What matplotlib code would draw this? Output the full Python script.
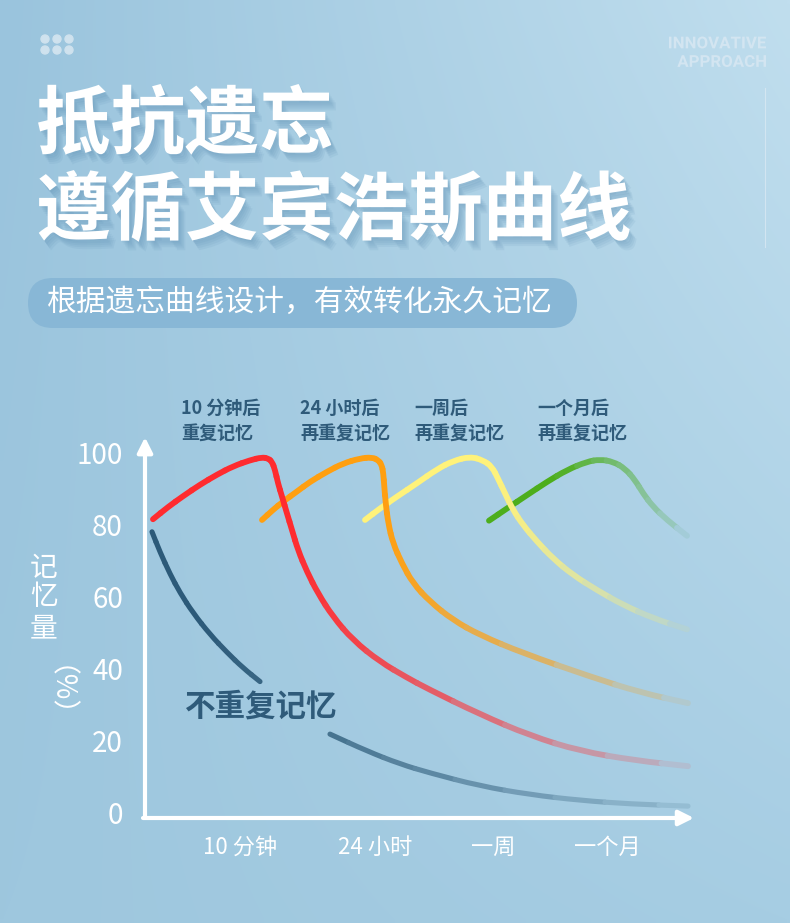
import numpy as np
import matplotlib
matplotlib.use('Agg')
import matplotlib.pyplot as plt
import matplotlib.patheffects as pe
from matplotlib.collections import PathCollection
from matplotlib.patches import FancyBboxPatch, PathPatch
from matplotlib.path import Path
from matplotlib.textpath import TextPath
from matplotlib.font_manager import FontProperties
from matplotlib.transforms import Affine2D
from matplotlib.colors import to_rgb

W, H = 790, 923
CJK = ['Noto Sans CJK SC', 'DejaVu Sans']
plt.rcParams['font.family'] = CJK

# ---- data: x = position along the time axis (0 = origin), y = memory kept (%)
time_ticks = [95, 230, 348, 462]
time_labels = ['10 分钟', '24 小时', '一周', '一个月']
pct_ticks = [0, 20, 40, 60, 80, 100]

# no review (gap where the label sits)
forget_x = [7, 15, 25, 35, 48, 65, 82, 98, 115, 150, 185, 222, 255, 285, 335, 385, 435, 485, 543]
forget_y = [78.1, 72.5, 66.4, 61.2, 55.6, 49.6, 44.6, 40.3, 36.5, np.nan, 21.9, 17.2, 13.6, 11.1, 7.5, 5.1, 3.5, 2.5, 1.9]

# review after 10 minutes
red_x = [8, 23, 38, 55, 72, 88, 105, 117, 123, 127, 130, 133, 137, 142, 147, 153, 162,
         173, 188, 208, 235, 262, 282, 335, 385, 435, 490, 543]
red_y = [81.6, 85, 88, 91.2, 94, 96.3, 98, 98.8, 98.5, 97.6, 95.3, 91.6, 87.9, 83.2, 78.6, 73, 67,
         61, 54.5, 48, 42, 37.6, 34.6, 27.4, 21.5, 17.2, 14.6, 13]

# review after 24 hours
orange_x = [117, 128, 138, 152, 165, 182, 198, 215, 227, 233.3, 236.7, 238.3, 239.3, 240.7,
            243.3, 248, 257, 268, 285, 308, 335, 378, 445, 495, 543]
orange_y = [81.4, 84.2, 86.5, 89.3, 92, 94.8, 97.1, 98.5, 98.8, 98, 96.7, 94.4, 90.6, 86,
            80.4, 74.9, 69.3, 63.8, 58.7, 53.6, 49.4, 44.4, 37.9, 33.5, 30.5]

# review after a week
yellow_x = [220, 235, 252, 272, 292, 308, 325, 338, 347, 353, 360, 368, 378, 392, 408, 428,
            452, 478, 508, 542]
yellow_y = [81.4, 84.6, 87.9, 91.6, 95.5, 97.8, 99, 98, 96.2, 92.9, 88.8, 84.2, 80, 75.4, 70.7,
            66.1, 61.9, 57.8, 54.1, 51]

# review after a month
green_x = [344, 362, 382, 402, 422, 442, 455, 468, 480, 490, 498, 508, 522, 542]
green_y = [81.2, 84.6, 88.3, 92, 95.3, 97.6, 98.2, 97.6, 95.7, 92.5, 88.8, 85.1, 81.4, 77]

annotations = [('10 分钟后', '重复记忆'), ('24 小时后', '再重复记忆'),
               ('一周后', '再重复记忆'), ('一个月后', '再重复记忆')]
annot_left = [181, 300, 414, 537]

BG = np.array([168, 206, 227]) / 255.0


def smooth_pieces(xs, ys):
    """Split a polyline into quadratic pieces (B-spline style) so it renders smoothly."""
    pts = np.column_stack([np.asarray(xs, float), np.asarray(ys, float)])
    runs, cur = [], []
    for p in pts:
        if np.isnan(p).any():
            if len(cur) > 1:
                runs.append(np.array(cur))
            cur = []
        else:
            cur.append(p)
    if len(cur) > 1:
        runs.append(np.array(cur))
    paths, xmid = [], []
    for r in runs:
        mids = (r[:-1] + r[1:]) / 2
        paths.append(Path([r[0], mids[0]], [Path.MOVETO, Path.LINETO]))
        xmid.append(r[0][0])
        for i in range(1, len(r) - 1):
            paths.append(Path([mids[i - 1], r[i], mids[i]],
                              [Path.MOVETO, Path.CURVE3, Path.CURVE3]))
            xmid.append(r[i][0])
        paths.append(Path([mids[-1], r[-1]], [Path.MOVETO, Path.LINETO]))
        xmid.append(r[-1][0])
    return paths, np.array(xmid)


def fade_line(ax, xs, ys, color, fade_from, fade_to, fade_max, lw, z):
    paths, xm = smooth_pieces(xs, ys)
    t = np.clip((xm - fade_from) / (fade_to - fade_from), 0, 1) * fade_max
    c0 = np.array(to_rgb(color))
    cols = c0[None, :] * (1 - t[:, None]) + BG[None, :] * t[:, None]
    pc = PathCollection(paths, facecolors='none', edgecolors=cols, linewidths=lw,
                        capstyle='round', joinstyle='round', zorder=z,
                        transform=ax.transData)
    ax.add_collection(pc)


fig = plt.figure(figsize=(W / 100, H / 100), dpi=100)

# background in pixel coordinates
bg = fig.add_axes([0, 0, 1, 1], zorder=0)
bg.set_xlim(0, W)
bg.set_ylim(H, 0)
bg.axis('off')
gy, gx = np.mgrid[0:1:120j, 0:1:120j]
tl = np.array([154, 196, 221]); tr = np.array([192, 222, 238])
bl = np.array([158, 199, 222]); br = np.array([166, 205, 227])
img = (tl * ((1 - gx) * (1 - gy))[..., None] + tr * (gx * (1 - gy))[..., None]
       + bl * ((1 - gx) * gy)[..., None] + br * (gx * gy)[..., None]) / 255.0
bg.imshow(img, extent=(0, W, H, 0), interpolation='bilinear', aspect='auto', zorder=0)

# decoration top-left dots
for dx in (45, 57, 69):
    for dy in (39, 50):
        bg.add_patch(plt.Circle((dx, dy), 4, color='#cfe2ee', zorder=1))

# top-right tag, condensed by squeezing the glyph outlines
tag_prop = FontProperties(family='Roboto', weight='bold')
tag_paths = [TextPath((0, 0), s, size=10, prop=tag_prop) for s in ('INNOVATIVE', 'APPROACH')]
e0 = tag_paths[0].get_extents()
sx = 97 / e0.width
sy = 12 / e0.height
for tp, ytop in zip(tag_paths, (36.5, 55)):
    e = tp.get_extents()
    tr_ = Affine2D().translate(-e.x1, -e.y1).scale(sx, -sy).translate(766, ytop)
    bg.add_patch(PathPatch(tr_.transform_path(tp), facecolor='#d3e5f1', edgecolor='none',
                           zorder=2))
bg.plot([765, 765], [88, 247], color='#d9e9f3', lw=0.8, alpha=0.8, zorder=1)

# title with soft shadow
shadow = [pe.SimplePatchShadow(offset=(o, -1.4 * o), shadow_rgbFace='#4f83aa', alpha=0.09)
          for o in (1, 2, 3, 4, 5)] + [pe.Normal()]
for txt, yc in (('抵抗遗忘', 126), ('遵循艾宾浩斯曲线', 212)):
    bg.text(36, yc, txt, ha='left', va='center', color='white', fontsize=53.6,
            fontweight='bold', zorder=3, path_effects=shadow)

# subtitle pill
bg.add_patch(FancyBboxPatch((28, 278), 549, 50, boxstyle='round,pad=0,rounding_size=25',
                            facecolor='#88b7d6', edgecolor='none', zorder=2))
bg.text(47, 302, '根据遗忘曲线设计，有效转化永久记忆', ha='left', va='center', color='white',
        fontsize=21.4, zorder=3)

# y label, stacked
for ch, yc in (('记', 568), ('忆', 597), ('量', 628)):
    bg.text(44, yc, ch, ha='center', va='center', color='white', fontsize=20, zorder=3)
bg.text(44, 706, '（%）', ha='center', va='center', color='white', fontsize=20,
        rotation=-90, zorder=3)

# labels above the peaks
for (l1, l2), xl in zip(annotations, annot_left):
    bg.text(xl, 408, l1, ha='left', va='center', color='#2f5b7a', fontsize=13,
            fontweight='bold', zorder=3)
    bg.text(xl, 433, l2, ha='left', va='center', color='#2f5b7a', fontsize=13,
            fontweight='bold', zorder=3)
bg.text(261, 707, '不重复记忆', ha='center', va='center', color='#2f5b7a', fontsize=22,
        fontweight='bold', zorder=3)

# chart
ax = fig.add_axes([145 / W, (H - 818) / H, 550 / W, 383 / H], zorder=1)
ax.set_xlim(0, 550)
ax.set_ylim(-1.4, 105)
ax.patch.set_alpha(0)
for s in ax.spines.values():
    s.set_visible(False)

fade_line(ax, forget_x, forget_y, '#2c5a79', 60, 543, 0.85, 3.7, 2)
fade_line(ax, green_x, green_y, '#4dae1c', 412, 543, 0.95, 4.2, 3)
fade_line(ax, yellow_x, yellow_y, '#fff27a', 350, 543, 0.88, 4.2, 4)
fade_line(ax, orange_x, orange_y, '#ff9f10', 238, 543, 0.9, 4.2, 5)
fade_line(ax, red_x, red_y, '#ff2b2f', 145, 543, 0.9, 4.2, 6)

arrow = dict(arrowstyle='-|>,head_length=0.9,head_width=0.45', color='white', lw=3,
             shrinkA=0, shrinkB=0)
ax.annotate('', xy=(0, 104.4), xytext=(0, -1.4), arrowprops=arrow, annotation_clip=False)
ax.annotate('', xy=(549, -1.4), xytext=(-2, -1.4), arrowprops=arrow, annotation_clip=False)

ax.set_yticks(pct_ticks)
ax.set_yticklabels([str(v) for v in pct_ticks])
ax.set_xticks(time_ticks)
ax.set_xticklabels(time_labels)
ax.tick_params(axis='y', length=0, pad=15.8, labelsize=20, labelcolor='white')
ax.tick_params(axis='x', length=0, pad=13, labelsize=16, labelcolor='white')

fig.savefig('out.png', dpi=100)
